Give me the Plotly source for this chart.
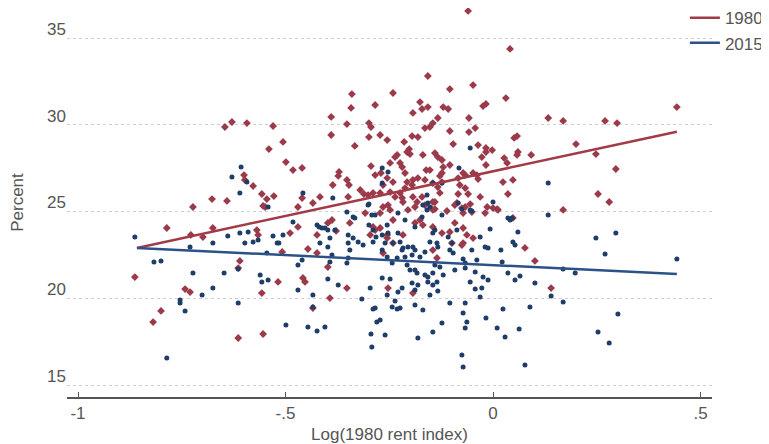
import plotly.graph_objects as go

# ---------------- data ----------------
x_1980 = [-0.863,-0.786,-0.819,-0.800,-0.742,-0.730,-0.728,-0.699,-0.675,-0.723,-0.677,-0.641,-0.646,-0.629,-0.593,
 -0.600,-0.598,-0.578,-0.557,-0.545,-0.528,-0.549,-0.540,-0.530,-0.506,-0.499,-0.482,-0.460,-0.460,-0.470,-0.434,-0.417,
 -0.390,-0.390,-0.386,-0.373,-0.371,-0.352,-0.342,-0.340,-0.333,-0.352,-0.347,-0.320,-0.311,-0.299,-0.294,-0.299,-0.284,
 -0.294,-0.284,-0.270,-0.272,-0.255,-0.241,-0.248,-0.231,-0.289,-0.272,-0.272,-0.060,0.041,-0.157,-0.104,-0.048,0.031,
 -0.017,-0.024,-0.176,-0.157,-0.171,-0.193,-0.120,-0.108,-0.133,-0.058,0.133,0.169,0.270,0.299,0.443,-0.164,-0.152,-0.145,
 -0.104,-0.058,-0.043,-0.195,-0.181,-0.214,-0.096,-0.036,0.051,0.058,0.200,0.248,-0.202,-0.207,-0.200,-0.236,-0.169,-0.140,
 -0.133,-0.123,-0.027,-0.017,-0.002,0.060,0.058,0.092,0.027,0.034,-0.224,-0.104,-0.017,-0.219,-0.212,-0.161,-0.152,-0.120,
 -0.123,-0.072,-0.039,-0.036,0.296,-0.255,-0.241,-0.265,-0.207,-0.193,-0.195,-0.181,-0.145,-0.123,-0.133,-0.084,-0.080,
 -0.067,0.024,0.048,-0.248,-0.224,-0.236,-0.217,-0.193,-0.183,-0.171,-0.128,0.036,0.253,0.280,-0.031,-0.014,-0.087,-0.075,
 -0.145,-0.111,0.169,0.000,0.010,-0.265,-0.248,-0.301,-0.212,-0.164,-0.349,-0.219,-0.145,-0.017,-0.048,-0.128,-0.067,-0.084,
 -0.060,-0.140,-0.055,-0.614,-0.610,-0.614,-0.569,-0.566,-0.557,-0.554,-0.518,-0.508,-0.489,-0.470,-0.458,-0.453,-0.434,
 -0.424,-0.398,-0.393,-0.352,-0.398,-0.388,-0.296,-0.284,-0.253,-0.255,-0.265,-0.446,-0.554,-0.193,-0.308,-0.253,-0.241,
 -0.205,-0.188,-0.164,-0.345,-0.378,-0.289,-0.272,-0.255,-0.241,-0.217,-0.188,-0.176,-0.169,-0.145,-0.424,-0.140,-0.092,
 -0.067,-0.072,-0.051,-0.019,0.012,0.048,-0.092,-0.104,-0.123,-0.072,-0.063,-0.048,-0.072,-0.145,-0.135,-0.099,0.077,0.101,
 0.140,-0.075]
y_1980 = [21.22,24.05,18.63,19.27,20.53,20.36,23.65,23.53,24.05,25.26,25.72,25.61,29.87,30.16,30.10,
 27.10,26.82,26.47,26.01,25.72,25.89,25.26,28.60,29.93,29.01,27.85,27.39,27.51,25.78,25.26,25.49,25.84,
 30.45,29.41,26.53,27.05,27.28,30.04,30.97,31.77,28.78,26.82,26.53,26.24,26.01,30.10,29.87,29.29,31.14,
 27.62,27.10,27.22,29.41,29.12,31.83,27.80,28.26,26.07,26.07,24.91,36.56,34.37,32.81,32.06,32.29,31.54,
 31.20,31.08,31.31,31.02,30.91,30.68,31.02,30.91,30.39,30.39,30.39,30.22,30.22,30.10,31.02,29.81,29.87,30.10,
 29.64,29.58,29.81,29.35,29.29,29.01,28.89,28.83,29.24,29.35,28.89,28.31,28.60,28.43,28.31,28.14,28.26,28.37,
 28.14,27.97,28.14,28.43,28.54,28.43,28.26,28.26,28.08,27.80,27.80,27.68,27.68,27.56,27.22,27.39,27.39,27.56,
 27.22,27.22,27.10,26.87,27.45,26.93,26.70,26.53,26.70,26.82,26.53,26.93,26.64,26.70,26.41,26.93,26.53,
 27.10,26.70,26.82,26.12,26.07,25.84,25.55,25.84,25.55,25.84,26.07,26.01,26.01,25.55,25.84,25.26,25.49,25.20,
 25.09,25.03,25.09,25.20,25.14,25.26,25.09,25.95,26.35,26.82,25.84,25.78,25.55,28.66,27.22,27.05,26.35,26.01,
 26.01,25.55,25.43,21.74,22.15,17.71,23.93,23.65,20.30,17.94,20.94,22.67,23.76,24.11,21.17,20.94,19.44,
 23.65,21.80,20.01,20.59,24.34,24.51,23.65,23.93,20.59,23.65,22.61,22.84,25.32,20.30,24.91,25.37,24.51,
 25.09,25.26,25.37,24.34,23.88,24.11,24.05,23.47,23.18,23.65,24.34,24.51,24.22,24.11,22.61,25.14,25.37,
 25.26,24.91,24.97,24.91,25.09,24.63,24.34,23.82,23.76,24.05,23.65,23.47,23.18,22.78,22.32,23.18,22.90,22.15,
 20.59,23.07]

x_2015 = [-0.629,-0.607,-0.610,-0.593,-0.542,-0.458,-0.386,-0.352,-0.337,-0.299,-0.292,-0.267,-0.267,-0.253,-0.055,
 -0.082,0.133,0.133,-0.159,-0.157,-0.169,-0.145,-0.123,-0.084,-0.075,-0.051,0.000,0.036,0.046,-0.863,-0.817,-0.800,-0.786,
 -0.754,-0.754,-0.742,-0.730,-0.723,-0.701,-0.675,-0.675,-0.648,-0.639,-0.614,-0.614,-0.610,-0.598,-0.578,-0.566,-0.590,
 -0.561,-0.557,-0.542,-0.530,-0.520,-0.516,-0.506,-0.545,-0.499,-0.482,-0.470,-0.460,-0.470,-0.434,-0.434,-0.446,-0.424,
 -0.405,-0.419,-0.412,-0.398,-0.381,-0.398,-0.388,-0.393,-0.373,-0.316,-0.352,-0.349,-0.337,-0.325,-0.296,-0.289,-0.284,
 -0.280,-0.272,-0.260,-0.294,-0.292,-0.267,-0.248,-0.255,-0.236,-0.243,-0.231,-0.299,-0.289,-0.282,-0.253,-0.241,-0.255,
 -0.243,-0.231,-0.181,-0.145,-0.224,-0.188,-0.169,-0.229,-0.219,-0.195,-0.188,-0.181,-0.152,-0.157,-0.145,-0.398,-0.349,
 -0.267,-0.219,-0.205,-0.193,-0.188,-0.195,-0.212,-0.176,-0.164,-0.207,-0.200,-0.188,-0.183,-0.164,-0.157,-0.417,-0.393,
 -0.349,-0.345,-0.313,-0.289,-0.267,-0.260,-0.229,-0.224,-0.217,-0.333,-0.284,-0.301,-0.255,-0.229,-0.212,-0.188,-0.171,
 -0.159,-0.152,-0.140,-0.424,-0.405,-0.123,-0.055,0.041,-0.145,-0.152,-0.135,-0.133,-0.108,-0.099,-0.087,-0.104,-0.096,
 -0.031,-0.019,-0.012,-0.007,0.019,0.048,0.053,0.060,-0.051,-0.072,-0.067,-0.039,0.022,-0.140,-0.128,-0.145,-0.120,-0.135,
 -0.133,-0.092,-0.067,-0.043,-0.055,-0.024,-0.012,0.036,0.053,0.065,0.101,-0.043,-0.027,-0.031,-0.104,-0.067,-0.072,-0.063,
 -0.067,-0.123,-0.017,0.010,0.029,0.024,0.063,0.089,-0.075,-0.072,0.077,0.443,0.248,0.296,0.270,0.198,0.169,0.169,0.140,
 0.301,0.253,0.280]
y_2015 = [26.99,27.56,26.07,26.70,25.26,26.07,25.78,24.97,24.68,25.43,24.80,27.51,26.64,27.28,28.66,
 27.51,26.64,24.80,25.95,25.49,25.37,26.64,26.64,25.49,25.14,25.03,25.55,24.63,24.63,23.53,22.09,22.15,16.56,
 19.90,19.73,19.27,22.95,21.46,20.19,23.18,20.59,21.46,23.59,19.73,21.69,23.76,23.18,23.24,23.36,23.82,
 21.34,20.94,21.05,23.59,23.18,23.18,23.65,22.61,18.46,24.40,21.92,22.20,20.48,20.19,19.50,18.34,18.11,
 18.34,24.11,24.05,23.93,23.93,22.95,22.49,22.09,20.76,19.96,22.03,23.65,23.47,23.24,20.59,19.38,19.44,
 18.63,18.75,17.88,17.94,17.19,21.17,21.11,20.19,19.84,19.50,19.38,24.22,23.93,23.53,23.76,23.18,22.38,
 22.03,22.32,17.71,18.05,19.44,19.61,19.32,20.36,20.59,20.88,20.48,20.76,20.19,20.94,20.76,21.11,22.32,
 22.78,22.78,22.95,22.95,22.78,22.49,22.38,22.38,22.67,21.92,21.63,21.63,21.46,21.34,21.22,23.18,23.47,
 23.18,22.78,23.07,23.24,23.65,23.18,23.76,23.24,22.90,24.63,24.80,25.37,24.22,24.91,24.51,24.11,24.68,
 25.09,25.26,23.93,24.22,24.05,24.80,25.09,24.51,23.76,23.24,23.18,22.95,23.53,23.18,23.93,22.78,22.61,
 23.53,22.95,22.90,23.99,22.78,23.24,23.07,23.82,22.78,22.26,22.03,22.20,22.09,21.92,21.80,21.46,21.34,20.94,
 20.42,21.63,21.74,21.51,20.94,21.22,21.05,21.46,21.05,21.28,20.88,20.53,20.59,20.07,19.73,19.73,19.15,18.63,
 18.29,18.57,18.86,18.29,17.77,19.38,18.23,19.50,16.73,16.04,16.15,22.26,23.47,23.76,22.55,21.46,21.69,19.78,20.13,
 19.09,18.05,17.42]

# fitted lines (endpoints)
fit_x = [-0.858, 0.443]
fit_1980 = [22.9, 29.6]
fit_2015 = [22.9, 21.4]

series_names = ["1980", "2015"]
x_tickvals = [-1, -0.5, 0, 0.5]
x_ticktext = ["-1", "-.5", "0", ".5"]
y_tickvals = [15, 20, 25, 30, 35]
y_ticktext = ["15", "20", "25", "30", "35"]
x_title = "Log(1980 rent index)"
y_title = "Percent"

RED = "#9a3a4a"
BLUE = "#1e3d68"
RED_LINE = "#a23b47"
BLUE_LINE = "#2a5287"

fig = go.Figure()
fig.add_trace(go.Scatter(x=x_1980, y=y_1980, mode="markers", showlegend=False, cliponaxis=False,
                         marker=dict(symbol="diamond", size=6, color=RED, line=dict(width=0))))
fig.add_trace(go.Scatter(x=x_2015, y=y_2015, mode="markers", showlegend=False, cliponaxis=False,
                         marker=dict(symbol="circle", size=5, color=BLUE, line=dict(width=0))))
fig.add_trace(go.Scatter(x=fit_x, y=fit_1980, mode="lines", name=series_names[0],
                         line=dict(color=RED_LINE, width=2.5)))
fig.add_trace(go.Scatter(x=fit_x, y=fit_2015, mode="lines", name=series_names[1],
                         line=dict(color=BLUE_LINE, width=2.5)))

fig.update_layout(
    width=761, height=436,
    margin=dict(l=59, r=57, t=0, b=47, autoexpand=False),
    paper_bgcolor="white", plot_bgcolor="white",
    font=dict(family="Liberation Sans, Arial, sans-serif", size=17, color="#555555"),
    showlegend=True,
    legend=dict(x=0.958, y=1.02, xanchor="left", yanchor="top", xref="paper", yref="paper",
                bgcolor="rgba(0,0,0,0)", font=dict(size=17, color="#555555"),
                itemwidth=30, tracegroupgap=0, traceorder="normal"),
)
fig.update_xaxes(range=[-1.0265, 0.5277], tickvals=x_tickvals, ticktext=x_ticktext,
                 showgrid=False, zeroline=False, showline=True, linecolor="#555555", linewidth=1.5,
                 ticks="inside", ticklen=5, tickcolor="#555555", tickwidth=1.2,
                 title=dict(text=x_title, standoff=6, font=dict(size=17, color="#555555")))
fig.update_yaxes(range=[14.31, 36.73], tickvals=y_tickvals, ticktext=y_ticktext,
                 showgrid=True, gridcolor="#cfcfcf", griddash="dot", gridwidth=1,
                 zeroline=False, showline=False, ticks="", ticklabelshift=-9,
                 title=dict(text=y_title, standoff=19, font=dict(size=17, color="#555555")))

fig.write_html("out.html")
